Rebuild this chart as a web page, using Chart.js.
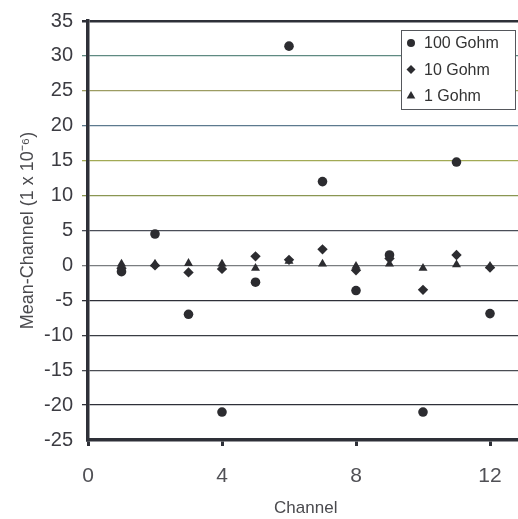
<!DOCTYPE html>
<html><head><meta charset="utf-8">
<script src="https://cdn.jsdelivr.net/npm/chart.js@4/dist/chart.umd.min.js"></script>
<style>
html,body{margin:0;padding:0;background:#fff;overflow:hidden}
#wrap{width:518px;height:519px;overflow:hidden;position:relative;background:#fff}
canvas{display:block}
</style></head><body>
<div id="wrap"><canvas id="c" width="540" height="519"></canvas></div>
<script>
// ---- data ----
const channels = [1,2,3,4,5,6,7,8,9,10,11,12];
const gohm100 = [-0.9, 4.5, -7.0, -21.0, -2.4, 31.4, 12.0, -3.6, 1.5, -21.0, 14.8, -6.9];
const gohm10  = [-0.4, 0.0, -1.0, -0.5, 1.3, 0.8, 2.3, -0.7, 1.0, -3.5, 1.5, -0.3];
const gohm1   = [0.2, 0.2, 0.3, 0.2, -0.4, 0.6, 0.2, -0.1, 0.2, -0.4, 0.1, -0.1];
const seriesNames = ['100 Gohm','10 Gohm','1 Gohm'];
const xTickValues = [0,4,8,12];
const yTickValues = [35,30,25,20,15,10,5,0,-5,-10,-15,-20,-25];
const xTitle = 'Channel';
const yTitle = 'Mean-Channel (1 x 10\u207B\u2076)';

const gridColors = {35:'#2e3038',30:'#5f8a82',25:'#9c9c62',20:'#5d7a8e',15:'#a2aa55',10:'#8a9652',5:'#4a4e58',0:'#7a7d80','-5':'#2e3038','-10':'#3a3d44','-15':'#4a4d54','-20':'#2e3038','-25':'#2e3038'};
const ink = '#2c2c30';
const FONT = "'Liberation Sans', Arial, Helvetica, sans-serif";

function pts(vals){ return channels.map((c,i)=>({x:c,y:vals[i]})); }

const legendPlugin = {
  id:'boxLegend',
  afterDraw(chart){
    const ctx = chart.ctx;
    const area = chart.chartArea;
    const bx = area.left + 313, by = area.top + 9, bw = 114, bh = 79;
    ctx.save();
    ctx.fillStyle = '#fff';
    ctx.fillRect(bx, by, bw, bh);
    ctx.strokeStyle = '#55575c';
    ctx.lineWidth = 1;
    ctx.strokeRect(bx+0.5, by+0.5, bw, bh);
    const styles = ['circle','rectRot','triangle'];
    const radii = [4,4.5,5];
    ctx.font = '16px ' + FONT;
    ctx.textBaseline = 'middle';
    seriesNames.forEach((name,i)=>{
      const cy = by + 13 + i*26.5;
      ctx.fillStyle = ink; ctx.strokeStyle = ink;
      Chart.helpers.drawPoint(ctx, {pointStyle: styles[i], radius: radii[i], rotation:0, borderWidth:0}, bx+10, cy);
      ctx.fillStyle = '#333';
      ctx.fillText(name, bx+23, cy+1);
    });
    ctx.restore();
  }
};

new Chart(document.getElementById('c'), {
  type:'scatter',
  data:{
    datasets:[
      {label:seriesNames[0], data:pts(gohm100), pointStyle:'circle', pointRadius:4.8, backgroundColor:ink, borderColor:ink, borderWidth:0},
      {label:seriesNames[1], data:pts(gohm10), pointStyle:'rectRot', pointRadius:5.2, backgroundColor:ink, borderColor:ink, borderWidth:0},
      {label:seriesNames[2], data:pts(gohm1), pointStyle:'triangle', pointRadius:5.2, backgroundColor:ink, borderColor:ink, borderWidth:0}
    ]
  },
  options:{
    responsive:false,
    animation:false,
    layout:{padding:{left:0,right:16.5,top:18,bottom:0}},
    plugins:{legend:{display:false},tooltip:{enabled:false}},
    scales:{
      x:{
        type:'linear', min:0, max:13,
        afterBuildTicks:s=>{ s.ticks = xTickValues.map(v=>({value:v})); },
        afterFit:s=>{ s.height = 79; },
        grid:{drawOnChartArea:false, drawTicks:true, tickLength:6, tickWidth:3, tickColor:'#2e3038'},
        border:{display:true, color:'#2e3038', width:3.5},
        ticks:{color:'#505055', font:{family:FONT, size:21}, padding:18, maxRotation:0},
        title:{display:true, text:xTitle, color:'#4a4a4e', font:{family:FONT, size:17}, padding:{top:0,bottom:0}}
      },
      y:{
        type:'linear', min:-25, max:35,
        afterBuildTicks:s=>{ s.ticks = yTickValues.map(v=>({value:v})); },
        afterFit:s=>{ s.width = 88; },
        grid:{
          drawTicks:true, tickLength:6,
          color:c=>gridColors[c.tick.value]||'#444',
          lineWidth:c=>c.tick.value===35?2.5:(c.tick.value===-25?0:1.3)
        },
        border:{display:true, color:'#2e3038', width:3.5},
        ticks:{color:'#3c3c42', font:{family:FONT, size:20}, padding:9},
        title:{display:true, text:yTitle, color:'#4a4a4e', font:{family:FONT, size:18}, padding:{top:17,bottom:0}}
      }
    }
  },
  plugins:[legendPlugin]
});
</script>
</body></html>
